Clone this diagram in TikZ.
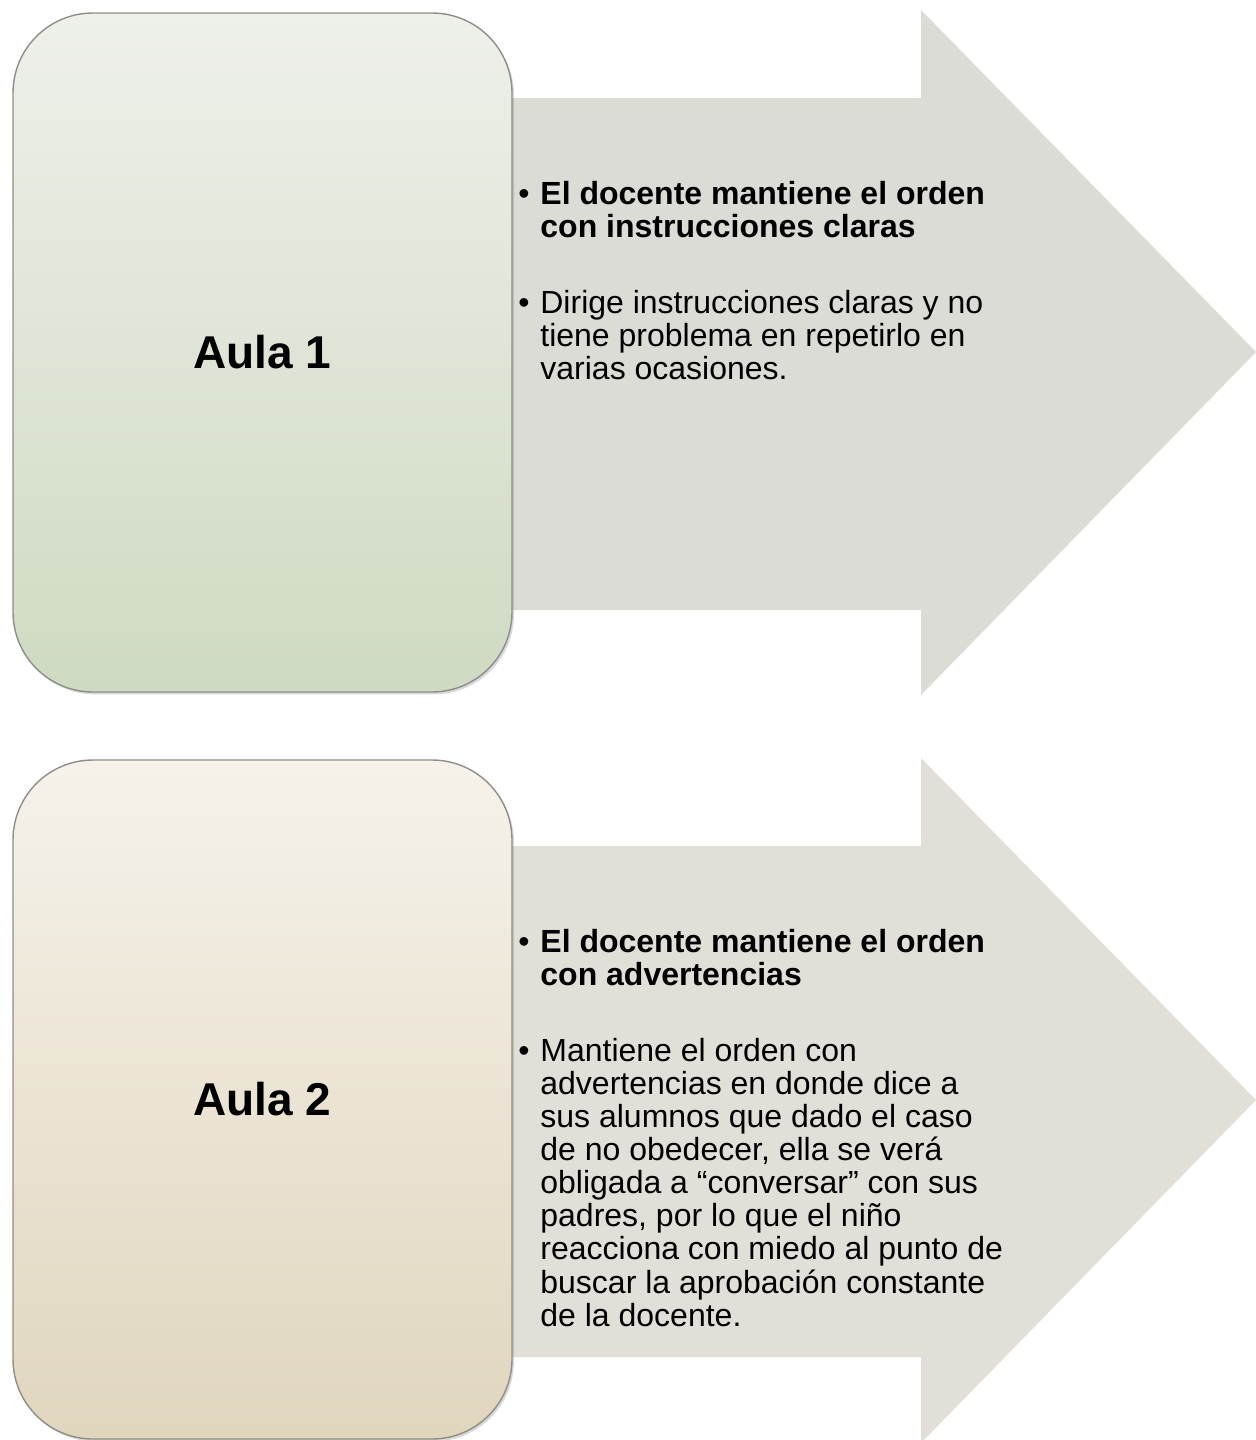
\documentclass[tikz,border=0pt]{standalone}
\usepackage{fontspec}
\setmainfont{Liberation Sans}
\usepackage{xcolor}
\usetikzlibrary{shadows}

\definecolor{verdeArriba}{HTML}{EEF0EA}
\definecolor{verdeAbajo}{HTML}{CFDAC2}
\definecolor{beigeArriba}{HTML}{F6F2EA}
\definecolor{beigeAbajo}{HTML}{E0D6BE}
\definecolor{flechaUno}{HTML}{DADCD5}
\definecolor{flechaDos}{HTML}{E1DFD8}
\definecolor{borde}{HTML}{8E8D87}

\tikzset{
  aula/.style={draw=borde, line width=0.7pt, rounded corners=40pt,
    minimum width=249.5pt, minimum height=339.5pt, inner sep=0pt,
    font=\fontsize{23}{27}\selectfont\bfseries,
    drop shadow={opacity=0.3, shadow xshift=1pt, shadow yshift=-1.2pt}},
  vineta/.style={anchor=base west, inner sep=0pt,
    font=\fontsize{16}{16.5}\selectfont}
}

\begin{document}
\begin{tikzpicture}[x=0.5pt,y=-0.5pt]
  \useasboundingbox (0,0) rectangle (1256,1440);

  % flechas de fondo
  \fill[flechaUno] (480,98) -- (921,98) -- (921,10) -- (1256,352)
    -- (921,695) -- (921,610) -- (480,610) -- cycle;
  \fill[flechaDos] (480,846) -- (921,846) -- (921,758) -- (1256,1100)
    -- (921,1443) -- (921,1357) -- (480,1357) -- cycle;

  % cajas
  \node[aula, top color=verdeArriba, bottom color=verdeAbajo] (aula1) at (262.5,352.5) {Aula 1};
  \node[aula, top color=beigeArriba, bottom color=beigeAbajo] (aula2) at (262.5,1099.5) {Aula 2};

  % texto de la primera flecha
  \node[vineta] (orden1) at (518,204) {\begin{tabular}[t]{@{}p{11pt}@{}l@{}}
    \textbullet & \textbf{El docente mantiene el orden}\\
     & \textbf{con instrucciones claras}
  \end{tabular}};
  \node[vineta] (dirige) at (518,313) {\begin{tabular}[t]{@{}p{11pt}@{}l@{}}
    \textbullet & Dirige instrucciones claras y no\\
     & tiene problema en repetirlo en\\
     & varias ocasiones.
  \end{tabular}};

  % texto de la segunda flecha
  \node[vineta] (orden2) at (518,952) {\begin{tabular}[t]{@{}p{11pt}@{}l@{}}
    \textbullet & \textbf{El docente mantiene el orden}\\
     & \textbf{con advertencias}
  \end{tabular}};
  \node[vineta] (mantiene) at (518,1061) {\begin{tabular}[t]{@{}p{11pt}@{}l@{}}
    \textbullet & Mantiene el orden con\\
     & advertencias en donde dice a\\
     & sus alumnos que dado el caso\\
     & de no obedecer, ella se verá\\
     & obligada a “conversar” con sus\\
     & padres, por lo que el niño\\
     & reacciona con miedo al punto de\\
     & buscar la aprobación constante\\
     & de la docente.
  \end{tabular}};
\end{tikzpicture}
\end{document}
